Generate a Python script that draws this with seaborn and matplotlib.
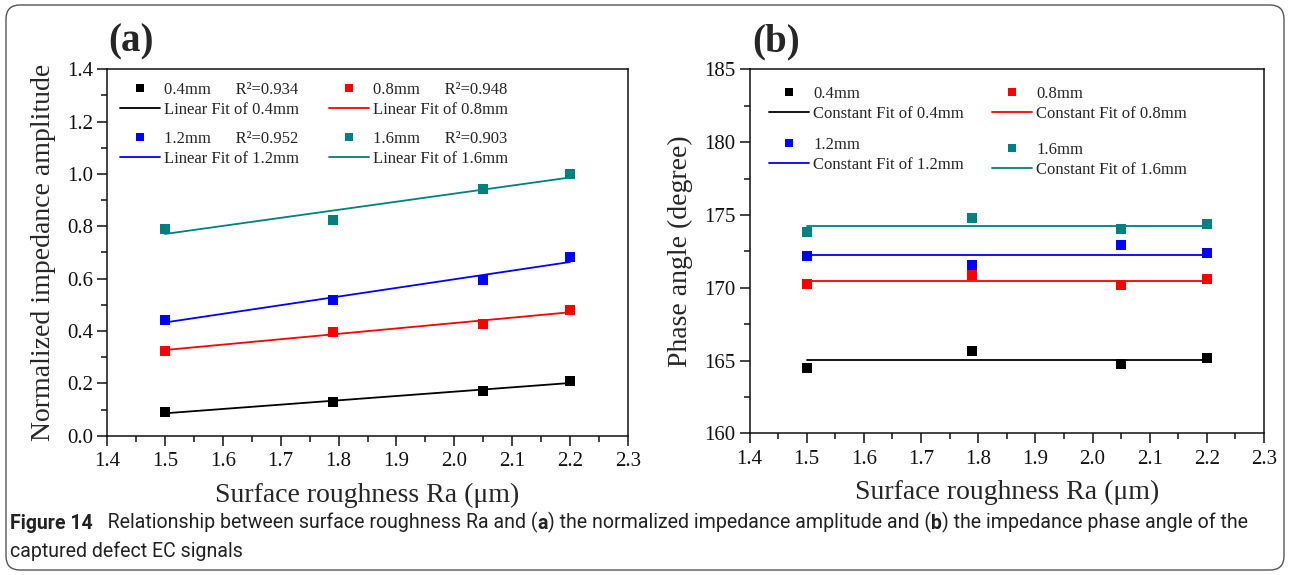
import numpy as np
import pandas as pd
import matplotlib
matplotlib.use("Agg")
import matplotlib.pyplot as plt
import seaborn as sns
from matplotlib.lines import Line2D
from matplotlib.legend import Legend
from matplotlib.patches import FancyBboxPatch
from matplotlib.transforms import IdentityTransform
from matplotlib.ticker import AutoMinorLocator

# ---------------- data ----------------
roughness = [1.5, 1.79, 2.05, 2.2]
series = ["0.4mm", "0.8mm", "1.2mm", "1.6mm"]
colors = ["#000000", "#ff0000", "#0000ff", "#008080"]

amp_04 = [0.090, 0.128, 0.171, 0.208]
amp_08 = [0.325, 0.397, 0.425, 0.480]
amp_12 = [0.443, 0.518, 0.594, 0.684]
amp_16 = [0.791, 0.825, 0.942, 1.000]
r2_values = ["0.934", "0.948", "0.952", "0.903"]

phase_04 = [164.46, 165.66, 164.74, 165.18]
phase_08 = [170.26, 170.88, 170.17, 170.58]
phase_12 = [172.19, 171.59, 172.91, 172.40]
phase_16 = [173.80, 174.81, 174.01, 174.40]

x_ticks = [1.4, 1.5, 1.6, 1.7, 1.8, 1.9, 2.0, 2.1, 2.2, 2.3]
amp_ticks = [0.0, 0.2, 0.4, 0.6, 0.8, 1.0, 1.2, 1.4]
phase_ticks = [160, 165, 170, 175, 180, 185]

x_label = "Surface roughness Ra (\u03bcm)"
amp_label = "Normalized impedance amplitude"
phase_label = "Phase angle (degree)"
caption_pieces = [
    ("Figure 14", True),
    ("   Relationship between surface roughness Ra and (", False),
    ("a", True),
    (") the normalized impedance amplitude and (", False),
    ("b", True),
    (") the impedance phase angle of the", False),
]
caption_2 = "captured defect EC signals"

amp_df = pd.DataFrame({
    "Ra": roughness * 4,
    "value": amp_04 + amp_08 + amp_12 + amp_16,
    "series": sum([[s] * 4 for s in series], []),
})
phase_df = pd.DataFrame({
    "Ra": roughness * 4,
    "value": phase_04 + phase_08 + phase_12 + phase_16,
    "series": sum([[s] * 4 for s in series], []),
})

# ---------------- style ----------------
sns.set_theme(style="ticks")
serif = ["Liberation Serif", "DejaVu Serif"]
plt.rcParams["font.family"] = serif
plt.rcParams["axes.linewidth"] = 1.1
for k in ["xtick.major.width", "ytick.major.width", "xtick.minor.width", "ytick.minor.width"]:
    plt.rcParams[k] = 1.1
plt.rcParams["xtick.color"] = "#111111"
plt.rcParams["ytick.color"] = "#111111"
plt.rcParams["axes.edgecolor"] = "#111111"

W, H = 1290, 575
fig = plt.figure(figsize=(W / 100, H / 100), dpi=100)
fig.patch.set_facecolor("white")


def rect(left, top, right, bottom):
    return [left / W, 1 - bottom / H, (right - left) / W, (bottom - top) / H]


ax_a = fig.add_axes(rect(107, 69.3, 628, 435.7))
ax_b = fig.add_axes(rect(749.5, 69.3, 1264, 433.3))

palette = dict(zip(series, colors))

# panel (a): linear fits + points
for s, c in zip(series, colors):
    sub = amp_df[amp_df.series == s]
    sns.regplot(data=sub, x="Ra", y="value", ax=ax_a, ci=None, scatter=False,
                color=c, truncate=True, line_kws=dict(lw=1.3, zorder=2))
sns.scatterplot(data=amp_df, x="Ra", y="value", hue="series", palette=palette,
                marker="s", s=52, edgecolor="none", legend=False, ax=ax_a, zorder=3)

# panel (b): constant fits + points
for s, c in zip(series, colors):
    sub = phase_df[phase_df.series == s]
    mean_val = sub["value"].mean()
    xr = [sub["Ra"].min(), sub["Ra"].max()]
    sns.lineplot(x=xr, y=[mean_val, mean_val], ax=ax_b, color=c, lw=1.3, zorder=2)
sns.scatterplot(data=phase_df, x="Ra", y="value", hue="series", palette=palette,
                marker="s", s=52, edgecolor="none", legend=False, ax=ax_b, zorder=3)

for ax, yt, ylab in [(ax_a, amp_ticks, amp_label), (ax_b, phase_ticks, phase_label)]:
    ax.set_xlim(x_ticks[0], x_ticks[-1])
    ax.set_ylim(yt[0], yt[-1])
    ax.set_xticks(x_ticks)
    ax.set_yticks(yt)
    ax.xaxis.set_minor_locator(AutoMinorLocator(2))
    ax.yaxis.set_minor_locator(AutoMinorLocator(2))
    ax.tick_params(which="major", direction="out", length=7, labelsize=15, pad=3,
                   labelfontfamily="Liberation Serif")
    ax.tick_params(which="minor", direction="out", length=4)
    ax.tick_params(axis="x", which="major", pad=5)
    ax.set_xlabel(x_label, fontsize=20, labelpad=8, family=serif)
    ax.set_ylabel(ylab, fontsize=20, labelpad=8, family=serif)
    for sp in ax.spines.values():
        sp.set_visible(True)

ax_a.set_yticklabels([f"{v:.1f}" for v in amp_ticks])
ax_a.set_xticklabels([f"{v:.1f}" for v in x_ticks])
ax_b.set_xticklabels([f"{v:.1f}" for v in x_ticks])
ax_b.set_yticklabels([str(v) for v in phase_ticks])
for ax in (ax_a, ax_b):
    for lab in ax.get_xticklabels() + ax.get_yticklabels():
        lab.set_family(serif)


# ---------------- legends ----------------
def add_leg(ax, handles, labels, x_px, yc_px):
    leg = Legend(ax, handles, labels, loc="upper left",
                 bbox_to_anchor=(x_px / W, 1 - (yc_px - 11) / H),
                 bbox_transform=fig.transFigure, frameon=False, borderpad=0,
                 borderaxespad=0, handlelength=2.4, handletextpad=0.25,
                 labelspacing=0.22, prop=dict(family=serif, size=12))
    ax.add_artist(leg)


def pt(c):
    return Line2D([], [], marker="s", ls="none", color=c, markersize=5.5, markeredgewidth=0)


def ln(c):
    return Line2D([], [], color=c, lw=1.3)


pos_a = [(120, 93), (329, 93), (120, 142), (329, 142)]
for i, (s, c) in enumerate(zip(series, colors)):
    add_leg(ax_a, [pt(c), ln(c)],
            [f"{s}      R\u00b2={r2_values[i]}", f"Linear Fit of {s}"], *pos_a[i])

pos_b = [(769, 97), (992, 97), (769, 148), (992, 153)]
for i, (s, c) in enumerate(zip(series, colors)):
    add_leg(ax_b, [pt(c), ln(c)], [s, f"Constant Fit of {s}"], *pos_b[i])

# panel letters
fig.text(131 / W, 1 - 42 / H, "(a)", fontsize=28, fontweight="bold", ha="center",
         va="center", family=serif)
fig.text(776 / W, 1 - 42 / H, "(b)", fontsize=28, fontweight="bold", ha="center",
         va="center", family=serif)

# ---------------- caption ----------------
cap_font = ["Roboto", "Liberation Sans", "DejaVu Sans"]
fs = 13
cap_texts = []
prev = None
for txt, bold in caption_pieces:
    kw = dict(fontsize=fs, family=cap_font, color="#222222",
              fontweight="bold" if bold else "normal")
    if prev is None:
        t = fig.text(10 / W, 1 - 533 / H, txt, va="bottom", ha="left", **kw)
    else:
        t = fig.text(0, 0, "", **kw)
        t = fig.add_artist(matplotlib.text.Annotation(
            txt, xy=(1, 0), xycoords=prev, va="bottom", ha="left", **kw))
    cap_texts.append(t)
    prev = t
t_2 = fig.text(10 / W, 1 - 561 / H, caption_2, fontsize=fs, family=cap_font,
               va="bottom", ha="left", color="#222222")
cap_texts.append(t_2)

fig.canvas.draw()
r = fig.canvas.get_renderer()
right = cap_texts[len(caption_pieces) - 1].get_window_extent(r).x1
scale = (1248 - 10) / (right - 10)
for t in cap_texts:
    t.set_fontsize(fs * scale)

# rounded border
border = FancyBboxPatch((6, 5), 1278, 565, boxstyle="round,pad=0,rounding_size=14",
                        transform=IdentityTransform(), fill=False, edgecolor="#555555", lw=1.0)
fig.add_artist(border)

fig.savefig("out.png", dpi=100)
